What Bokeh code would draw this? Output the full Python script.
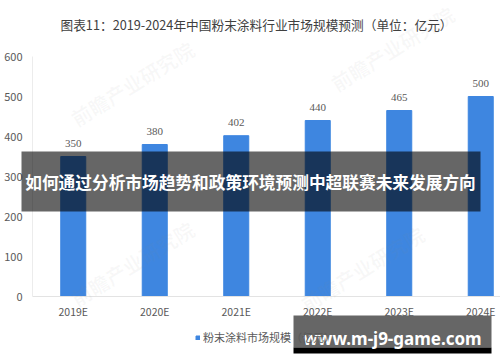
from bokeh.plotting import figure
from bokeh.models import (ColumnDataSource, Range1d, FixedTicker, LabelSet, Label,
                          BoxAnnotation)
from bokeh.embed import file_html
from bokeh.resources import INLINE

# ---- data ----
categories = ["2019E", "2020E", "2021E", "2022E", "2023E", "2024E"]
values = [350, 380, 402, 440, 465, 500]
y_ticks = [0, 100, 200, 300, 400, 500, 600]
title_text = "图表11：2019-2024年中国粉末涂料行业市场规模预测（单位：亿元）"
series_name = "粉末涂料市场规模（亿元）"
banner_text = "如何通过分析市场趋势和政策环境预测中超联赛未来发展方向"
site_text = "www.m-j9-game.com"
watermark_text = "前瞻产业研究院"

CJK = "Noto Sans CJK SC"
GRAY = "#595959"
BLUE = "#3e86e0"

W, H = 500, 362
PX_X = 81.5            # pixels per category
PX_Y = 240 / 600       # pixels per unit
x0 = -0.5 - 32 / PX_X
x1 = x0 + W / PX_X
y0 = -(H - 296) / PX_Y
y1 = 600 + 56 / PX_Y

xs = list(range(len(categories)))
src = ColumnDataSource(dict(x=xs, top=values, lab=[str(v) for v in values]))

p = figure(width=W, height=H, output_backend="svg", toolbar_location=None,
           title=None, x_range=Range1d(x0, x1), y_range=Range1d(y0, y1),
           min_border=0)
p.outline_line_color = None
p.background_fill_color = "white"
p.border_fill_color = "white"
p.xgrid.grid_line_color = None
p.ygrid.grid_line_color = None

p.vbar(x="x", top="top", width=0.307, source=src, color=BLUE,
       legend_label=series_name)

# axes (drawn inside the frame at fixed positions)
p.yaxis.fixed_location = -0.5
p.yaxis.bounds = (0, 600)
p.yaxis.ticker = FixedTicker(ticks=y_ticks)
p.yaxis.axis_line_color = "#ececec"
p.yaxis.major_tick_line_color = None
p.yaxis.minor_tick_line_color = None
p.yaxis.major_tick_out = 0
p.yaxis.minor_tick_out = 0
p.yaxis.major_label_standoff = 10
p.yaxis.major_label_text_font = CJK
p.yaxis.major_label_text_font_size = "11px"
p.yaxis.major_label_text_color = GRAY

p.xaxis.fixed_location = 0
p.xaxis.bounds = (-0.5, x1)
p.xaxis.ticker = FixedTicker(ticks=xs)
p.xaxis.major_label_overrides = {i: c for i, c in zip(xs, categories)}
p.xaxis.axis_line_color = "#e3e3e3"
p.xaxis.major_tick_line_color = None
p.xaxis.minor_tick_line_color = None
p.xaxis.major_tick_out = 0
p.xaxis.minor_tick_out = 0
p.xaxis.major_label_standoff = 7
p.xaxis.major_label_text_font = CJK
p.xaxis.major_label_text_font_size = "10.5px"
p.xaxis.major_label_text_color = GRAY

# bar value labels
p.add_layout(LabelSet(x="x", y="top", text="lab", source=src, y_offset=10,
                      text_align="center", text_baseline="bottom",
                      text_font=CJK, text_font_size="11px", text_color=GRAY))

# legend
lg = p.legend[0]
lg.location = (195, 17)
lg.glyph_width = 5
lg.glyph_height = 5
lg.label_height = 12
lg.label_standoff = 3
lg.padding = 0
lg.margin = 0
lg.border_line_color = None
lg.background_fill_alpha = 0
lg.label_text_font = CJK
lg.label_text_font_size = "11px"
lg.label_text_color = GRAY

# faint watermarks
for (wx, wy) in [(80, 230), (340, 265), (80, 50), (310, 45)]:
    p.add_layout(Label(x=wx, y=wy, x_units="screen", y_units="screen",
                       text=watermark_text, angle=0.55, text_font=CJK,
                       text_font_size="20px", text_font_style="bold",
                       text_color="#888888", text_alpha=0.06))

# title
p.add_layout(Label(x=256, y=338, x_units="screen", y_units="screen",
                   text=title_text, text_align="center", text_baseline="middle",
                   text_font=CJK, text_font_size="12.7px", text_color="#404040"))

# dark banner
p.add_layout(BoxAnnotation(left=21, right=480, bottom=151, top=211,
                           left_units="screen", right_units="screen",
                           bottom_units="screen", top_units="screen",
                           fill_color="black", fill_alpha=0.6, line_color=None))
p.add_layout(Label(x=250, y=181, x_units="screen", y_units="screen",
                   text=banner_text, text_align="center", text_baseline="middle",
                   text_font=CJK, text_font_size="16.7px", text_font_style="bold",
                   text_color="white"))

# site watermark box
p.add_layout(BoxAnnotation(left=293, right=491, bottom=15, top=47,
                           left_units="screen", right_units="screen",
                           bottom_units="screen", top_units="screen",
                           fill_color="#666666", fill_alpha=1, line_color=None))
p.add_layout(BoxAnnotation(left=293, right=491, bottom=9, top=15,
                           left_units="screen", right_units="screen",
                           bottom_units="screen", top_units="screen",
                           fill_color="black", fill_alpha=1, line_color=None))
p.add_layout(Label(x=392, y=24, x_units="screen", y_units="screen",
                   text=site_text, text_align="center", text_baseline="middle",
                   text_font="Noto Sans", text_font_size="17px",
                   text_font_style="bold", text_color="white"))

open("out.html", "w").write(file_html(p, INLINE))
